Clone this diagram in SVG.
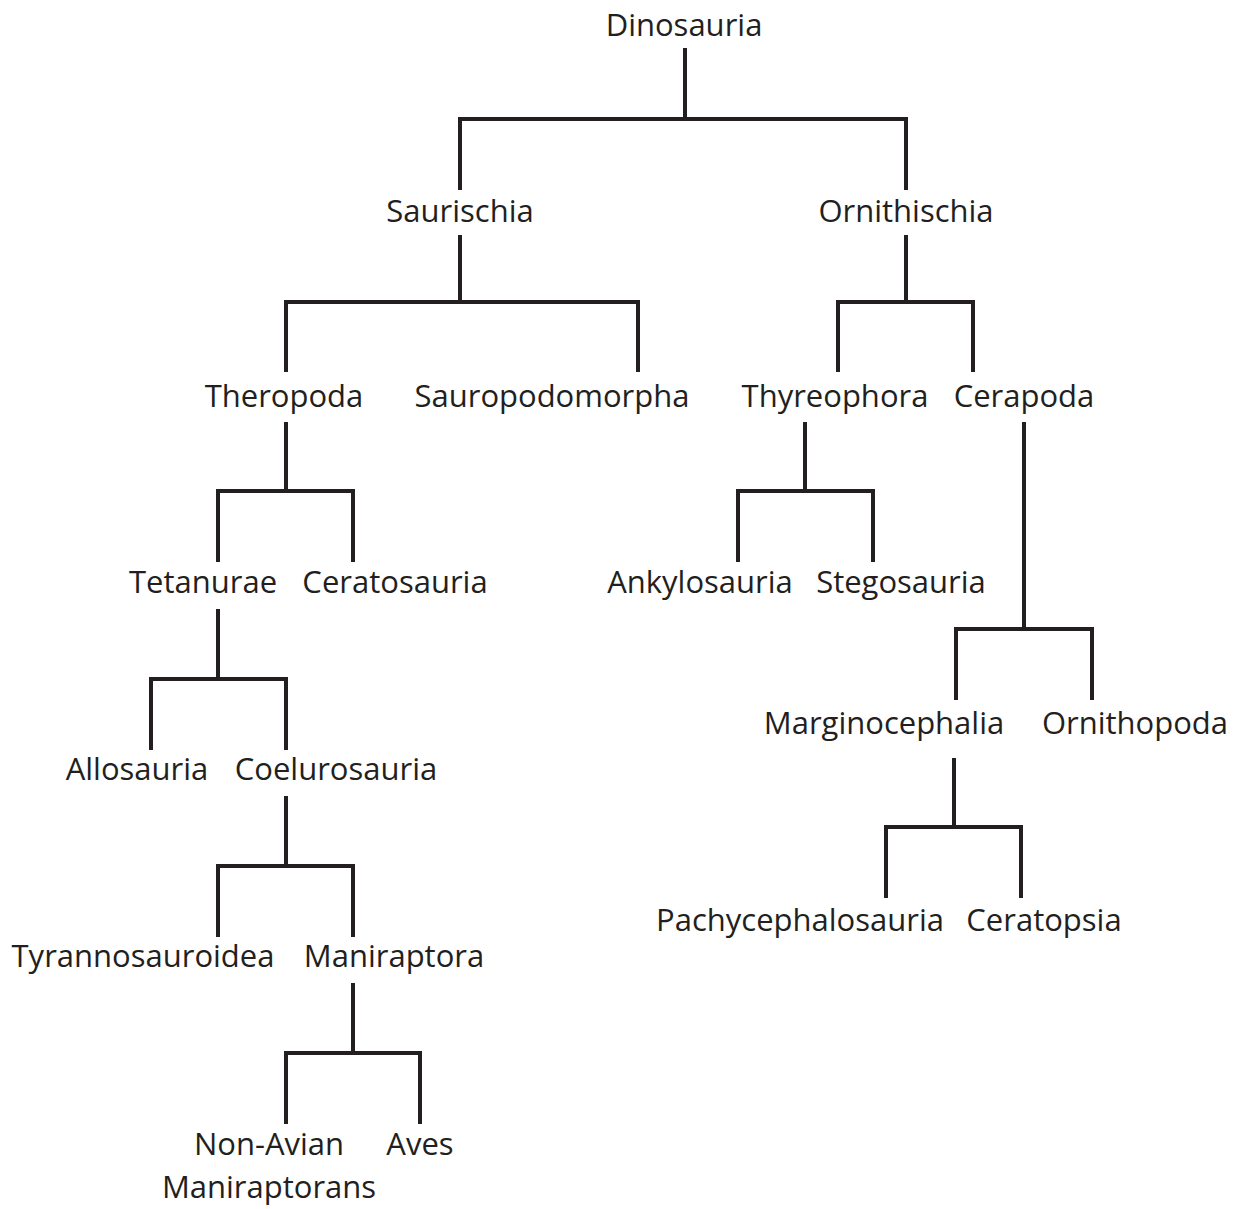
<svg xmlns="http://www.w3.org/2000/svg" width="1241" height="1209" viewBox="0 0 1241 1209">
<style>
.lbl{font-family:"Open Sans","Noto Sans","Liberation Sans",sans-serif;font-size:31px;fill:#231f20;text-anchor:middle}
.ln{fill:none;stroke:#231f20;stroke-width:4;stroke-linejoin:miter;stroke-linecap:butt}
</style>
<rect width="1241" height="1209" fill="#ffffff"/>
<g id="connectors" class="ln">
<path d="M685 48V119"/><path d="M460 190V119H906V190"/>
<path d="M460 235V302"/><path d="M286 372V302H638V372"/>
<path d="M906 235V302"/><path d="M838 372V302H973V372"/>
<path d="M286 422V491"/><path d="M218 562V491H353V562"/>
<path d="M805 422V491"/><path d="M738 562V491H873V562"/>
<path d="M1024 422V629"/><path d="M956 700V629H1092V700"/>
<path d="M218 609V679"/><path d="M151 750V679H286V750"/>
<path d="M286 796V866"/><path d="M218 937V866H353V937"/>
<path d="M954 758V827"/><path d="M886 898V827H1021V898"/>
<path d="M353 983V1053"/><path d="M286 1124V1053H420V1124"/>
</g>
<g id="dinosauria"><text class="lbl" x="684" y="36">Dinosauria</text></g>
<g id="saurischia"><text class="lbl" x="460" y="222">Saurischia</text></g>
<g id="ornithischia"><text class="lbl" x="906" y="222">Ornithischia</text></g>
<g id="theropoda"><text class="lbl" x="284" y="407">Theropoda</text></g>
<g id="sauropodomorpha"><text class="lbl" x="552" y="407">Sauropodomorpha</text></g>
<g id="thyreophora"><text class="lbl" x="835" y="407">Thyreophora</text></g>
<g id="cerapoda"><text class="lbl" x="1024" y="407">Cerapoda</text></g>
<g id="tetanurae"><text class="lbl" x="203" y="593">Tetanurae</text></g>
<g id="ceratosauria"><text class="lbl" x="395" y="593">Ceratosauria</text></g>
<g id="ankylosauria"><text class="lbl" x="700" y="593">Ankylosauria</text></g>
<g id="stegosauria"><text class="lbl" x="901" y="593">Stegosauria</text></g>
<g id="allosauria"><text class="lbl" x="137" y="780">Allosauria</text></g>
<g id="coelurosauria"><text class="lbl" x="336" y="780">Coelurosauria</text></g>
<g id="marginocephalia"><text class="lbl" x="884" y="734">Marginocephalia</text></g>
<g id="ornithopoda"><text class="lbl" x="1135" y="734">Ornithopoda</text></g>
<g id="pachycephalosauria"><text class="lbl" x="800" y="931">Pachycephalosauria</text></g>
<g id="ceratopsia"><text class="lbl" x="1044" y="931">Ceratopsia</text></g>
<g id="tyrannosauroidea"><text class="lbl" x="143" y="967">Tyrannosauroidea</text></g>
<g id="maniraptora"><text class="lbl" x="394" y="967">Maniraptora</text></g>
<g id="non-avian-maniraptorans"><text class="lbl" x="269" y="1155">Non-Avian</text><text class="lbl" x="269" y="1198">Maniraptorans</text></g>
<g id="aves"><text class="lbl" x="420" y="1155">Aves</text></g>
</svg>
